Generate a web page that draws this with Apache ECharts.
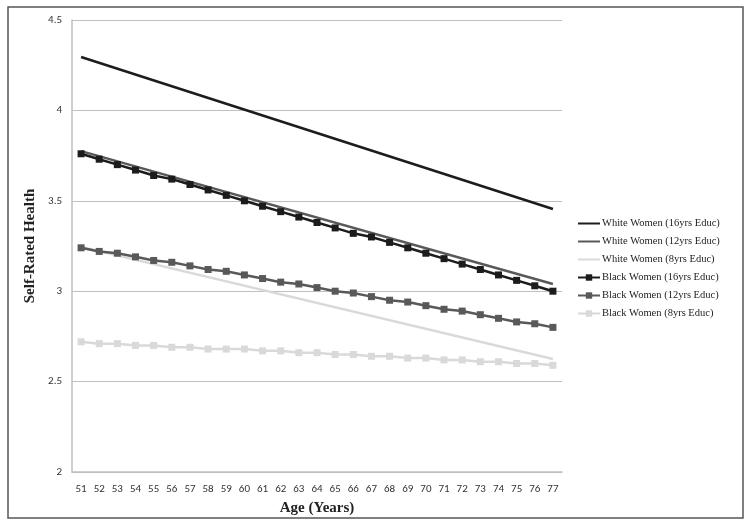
<!DOCTYPE html>
<html><head><meta charset="utf-8">
<script src="https://cdn.jsdelivr.net/npm/echarts@6/dist/echarts.min.js"></script>
<style>html,body{margin:0;padding:0;background:#fff}#c{width:751px;height:528px}</style>
</head><body><div id="c"></div>
<script>
const ages = ['51','52','53','54','55','56','57','58','59','60','61','62','63','64','65','66','67','68','69','70','71','72','73','74','75','76','77'];
const yTicks = [2, 2.5, 3, 3.5, 4, 4.5];
// White lines: read endpoints only (straight lines, no markers)
const white16 = [['51', 4.295], ['77', 3.455]];
const white12 = [['51', 3.775], ['77', 3.04]];
const white8  = [['51', 3.245], ['77', 2.625]];
const black16 = [3.76,3.73,3.70,3.67,3.64,3.62,3.59,3.56,3.53,3.50,3.47,3.44,3.41,3.38,3.35,3.32,3.30,3.27,3.24,3.21,3.18,3.15,3.12,3.09,3.06,3.03,3.00];
const black12 = [3.24,3.22,3.21,3.19,3.17,3.16,3.14,3.12,3.11,3.09,3.07,3.05,3.04,3.02,3.00,2.99,2.97,2.95,2.94,2.92,2.90,2.89,2.87,2.85,2.83,2.82,2.80];
const black8  = [2.72,2.71,2.71,2.70,2.70,2.69,2.69,2.68,2.68,2.68,2.67,2.67,2.66,2.66,2.65,2.65,2.64,2.64,2.63,2.63,2.62,2.62,2.61,2.61,2.60,2.60,2.59];
const names = ['White Women (16yrs Educ)','White Women (12yrs Educ)','White Women (8yrs Educ)','Black Women (16yrs Educ)','Black Women (12yrs Educ)','Black Women (8yrs Educ)'];

const chart = echarts.init(document.getElementById('c'), null, {renderer:'canvas'});
const serif = '"Liberation Serif","Times New Roman",serif';
const sans = 'Carlito,"Open Sans","DejaVu Sans",sans-serif';
function ln(name, data, color, marker) {
  return {
    name, type:'line', data,
    symbol: marker ? 'rect' : 'none', symbolSize: 7, showSymbol: !!marker,
    lineStyle:{color, width:2.5}, itemStyle:{color},
    emphasis:{disabled:true}, animation:false, z: marker ? 3 : 2
  };
}
chart.setOption({
  backgroundColor:'#fff',
  animation:false,
  graphic:[{type:'rect', shape:{x:8, y:7, width:735, height:511}, style:{fill:null, stroke:'#555', lineWidth:1.5}, z:-1}],
  grid:{left:72, top:20, width:490, height:452},
  legend:{
    orient:'vertical', left:577, top:218, itemWidth:22, itemHeight:8, itemGap:7, padding:0,
    textStyle:{fontFamily:serif, fontSize:10.5, color:'#222', padding:[0,0,0,-3]},
    data:names.map((n,i)=> i<3 ? {name:n, itemStyle:{opacity:0}} : {name:n})
  },
  xAxis:{
    type:'category', data:ages, boundaryGap:true,
    name:'Age (Years)', nameLocation:'middle', nameGap:29,
    nameTextStyle:{fontFamily:serif, fontSize:15, fontWeight:'bold', color:'#222'},
    axisLine:{lineStyle:{color:'#bfbfbf', width:1.5}},
    axisTick:{show:false},
    axisLabel:{fontFamily:sans, fontSize:11, color:'#333', margin:12, interval:0}
  },
  yAxis:{
    type:'value', min:yTicks[0], max:yTicks[yTicks.length-1], interval:0.5,
    name:'Self-Rated Health', nameLocation:'middle', nameGap:34,
    nameTextStyle:{fontFamily:serif, fontSize:15, fontWeight:'bold', color:'#222'},
    axisLine:{show:true, lineStyle:{color:'#bfbfbf', width:1.5}},
    axisTick:{show:false},
    splitLine:{lineStyle:{color:'#bfbfbf', width:1}},
    axisLabel:{fontFamily:sans, fontSize:11, color:'#333', margin:10}
  },
  series:[
    ln(names[0], white16, '#1c1c1c', false),
    ln(names[1], white12, '#595959', false),
    ln(names[2], white8, '#d9d9d9', false),
    ln(names[3], black16, '#1c1c1c', true),
    ln(names[4], black12, '#595959', true),
    ln(names[5], black8, '#d9d9d9', true)
  ]
});
</script></body></html>
